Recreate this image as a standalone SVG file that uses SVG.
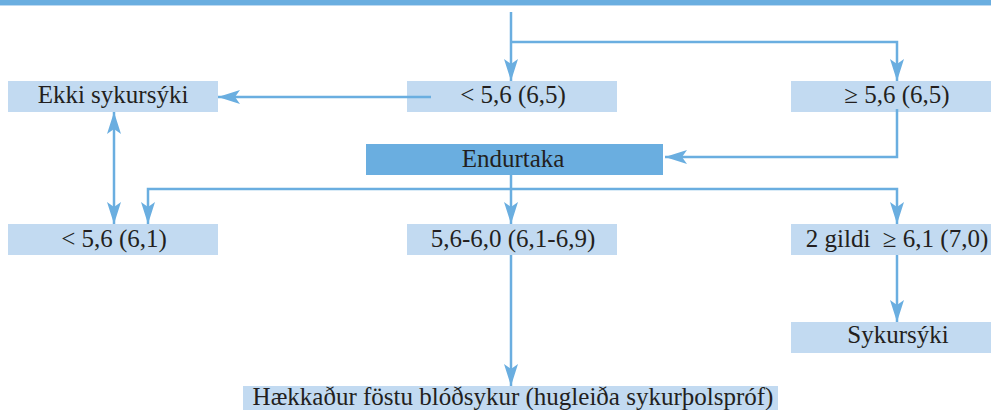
<svg xmlns="http://www.w3.org/2000/svg" width="991" height="410" viewBox="0 0 991 410">
<style>
.box{fill:#c2daf1;}
.dark{fill:#6aaee0;}
.t{font-family:'Liberation Serif','DejaVu Serif',serif;font-size:25px;fill:#231f20;text-anchor:middle;}
.c{fill:none;stroke:#6aaee0;stroke-width:2.5;}
</style>
<defs>
<marker id="ah" viewBox="-1 -8 24 16" refX="22" refY="0" markerWidth="24" markerHeight="16" markerUnits="userSpaceOnUse" orient="auto-start-reverse">
<path d="M0,-7 L22,0 L0,7 L5,0 Z" fill="#6aaee0"/>
</marker>
</defs>
<rect x="0" y="0" width="991" height="5" fill="#6aaee0"/>
<rect x="0" y="5" width="991" height="1" fill="#bcd9f1"/>
<g id="n-ekki"><rect class="box" x="8" y="81" width="210" height="31"/><text class="t" font-family="Liberation Serif" x="113" y="103">Ekki sykursýki</text></g>
<g id="n-lt65"><rect class="box" x="407" y="81" width="210" height="31"/><text class="t" font-family="Liberation Serif" x="513" y="103">&lt; 5,6 (6,5)</text></g>
<g id="n-ge65"><rect class="box" x="791" y="81" width="210" height="31"/><text class="t" font-family="Liberation Serif" x="897" y="103">≥ 5,6 (6,5)</text></g>
<g id="n-endurtaka"><rect class="dark" x="366" y="144" width="297" height="31"/><text class="t" font-family="Liberation Serif" x="513" y="167">Endurtaka</text></g>
<g id="n-lt61"><rect class="box" x="8" y="224" width="210" height="31"/><text class="t" font-family="Liberation Serif" x="114" y="247">&lt; 5,6 (6,1)</text></g>
<g id="n-mid"><rect class="box" x="407" y="224" width="210" height="31"/><text class="t" font-family="Liberation Serif" x="513" y="247">5,6-6,0 (6,1-6,9)</text></g>
<g id="n-2gildi"><rect class="box" x="791" y="224" width="210" height="31"/><text class="t" font-family="Liberation Serif" x="897" y="247">2 gildi&#160; ≥ 6,1 (7,0)</text></g>
<g id="n-sykursyki"><rect class="box" x="791" y="322" width="210" height="31"/><text class="t" font-family="Liberation Serif" x="898" y="343">Sykursýki</text></g>
<g id="n-haekkadur"><rect class="box" x="243" y="386" width="535" height="31"/><text class="t" font-family="Liberation Serif" x="513" y="405">Hækkaður föstu blóðsykur (hugleiða sykurþolspróf)</text></g>
<g id="connectors">
<path class="c" d="M511,12 V81" marker-end="url(#ah)"/>
<path class="c" d="M511,42 H897 V81" marker-end="url(#ah)"/>
<path class="c" d="M431,97 H218" marker-end="url(#ah)"/>
<path class="c" d="M897,109 V157 H665" marker-end="url(#ah)"/>
<path class="c" d="M114,112 V224" marker-start="url(#ah)" marker-end="url(#ah)"/>
<path class="c" d="M511,175 V224" marker-end="url(#ah)"/>
<path class="c" d="M511,189 H148 V224" marker-end="url(#ah)"/>
<path class="c" d="M511,189 H897 V224" marker-end="url(#ah)"/>
<path class="c" d="M897,255 V322" marker-end="url(#ah)"/>
<path class="c" d="M511,255 V386" marker-end="url(#ah)"/>
</g>
</svg>
